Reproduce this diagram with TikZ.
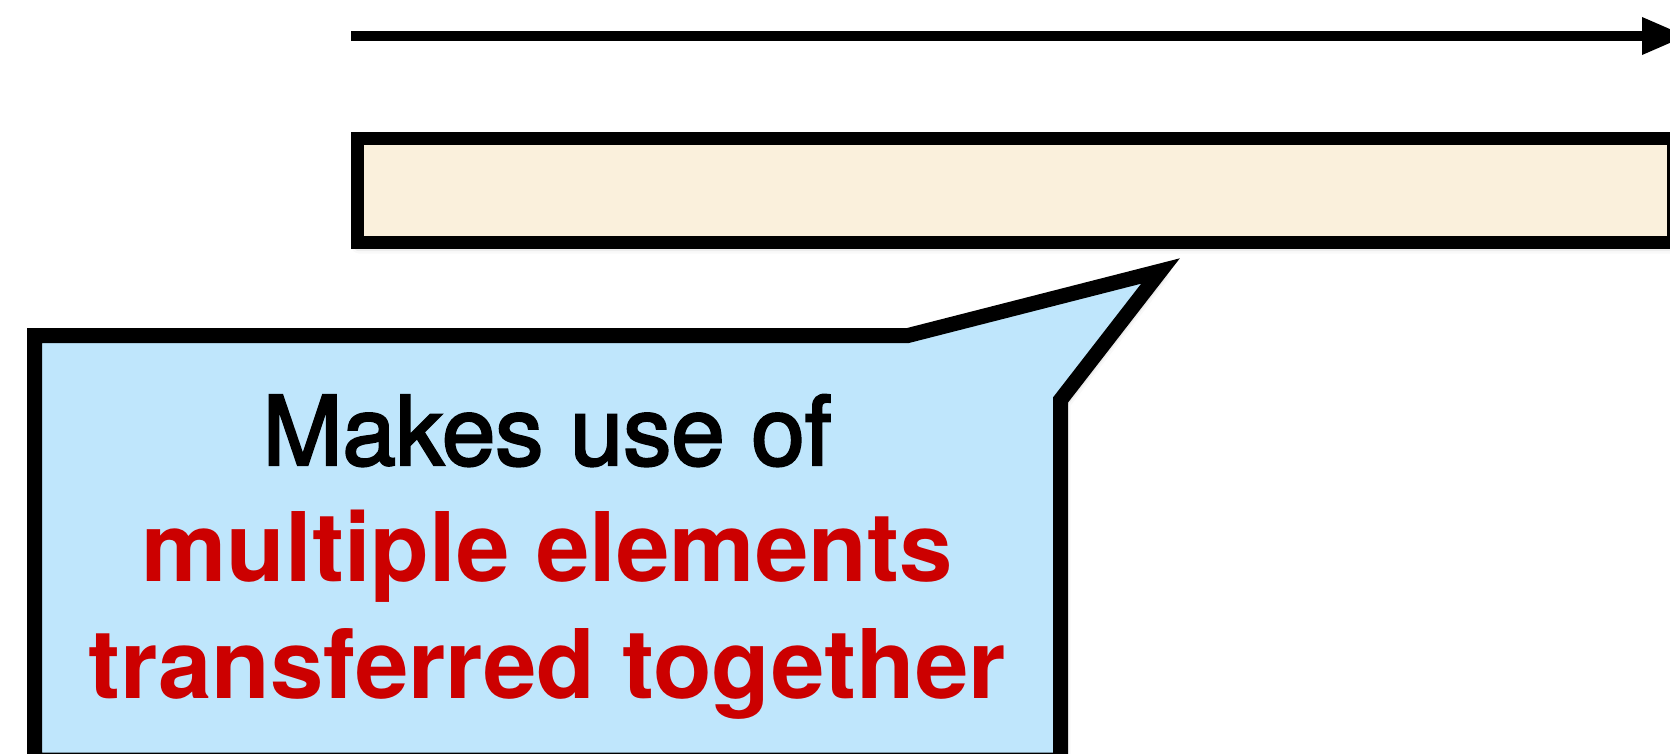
\documentclass[tikz,border=0pt]{standalone}
\usepackage{fontspec}
\setmainfont{TeX Gyre Heros}
\newfontfamily\heavyheros[FakeBold=2.5]{TeX Gyre Heros}
\usetikzlibrary{arrows.meta,shadows.blur}
\definecolor{cream}{RGB}{250,240,220}
\definecolor{calloutblue}{RGB}{191,230,252}
\definecolor{hired}{RGB}{204,0,0}
\begin{document}
\begin{tikzpicture}[x=0.5pt,y=-0.5pt,
  softshadow/.style={blur shadow={shadow xshift=1pt, shadow yshift=-1.5pt, shadow blur radius=4pt, shadow opacity=40}},
  timeline/.style={line width=4.8pt, -{Triangle[length=22.5pt,width=17.5pt]}},
  barbox/.style={draw=black, line width=6.5pt, fill=cream, softshadow},
  callout/.style={draw=black, line width=7.5pt, fill=calloutblue, line join=miter, softshadow},
  plaintext/.style={anchor=base, inner sep=0pt, font=\fontsize{48}{58}\selectfont\heavyheros},
  redtext/.style={anchor=base, inner sep=0pt, text=hired, font=\fontsize{48}{58}\selectfont\bfseries}
]
\useasboundingbox (0,0) rectangle (1670,754);
\clip (0,0) rectangle (1670,754);
% timeline arrow
\coordinate (tstart) at (351,36);
\coordinate (tend) at (1687,36);
\draw[timeline] (tstart) -- (tend);
% bar
\coordinate (barNW) at (357,138.5);
\coordinate (barSE) at (1673,242.5);
\path[barbox] (barNW) rectangle (barSE);
% callout
\coordinate (cNW) at (34.5,335.5);
\coordinate (cNotch) at (908,335.5);
\coordinate (cTip) at (1160.5,271);
\coordinate (cKnee) at (1060.5,400);
\coordinate (cSE) at (1060.5,760);
\coordinate (cSW) at (34.5,760);
\path[callout] (cNW) -- (cNotch) -- (cTip) -- (cKnee) -- (cSE) -- (cSW) -- cycle;
% texts
\node[plaintext] (t1) at (547,465) {Makes use of};
\node[redtext] (t2) at (547,581.5) {multiple elements};
\node[redtext] (t3) at (547,698) {transferred together};
\end{tikzpicture}
\end{document}
